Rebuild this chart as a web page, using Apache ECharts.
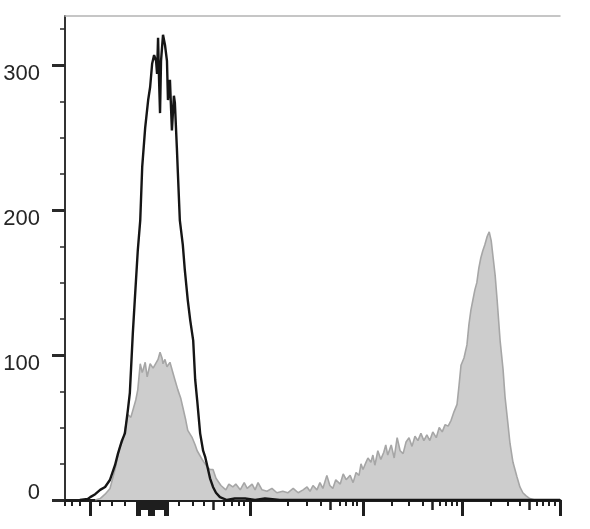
<!DOCTYPE html>
<html>
<head>
<meta charset="utf-8">
<script src="https://cdn.jsdelivr.net/npm/echarts@6/dist/echarts.min.js"></script>
<style>
html,body{margin:0;padding:0;background:#fff;}
#chart{width:590px;height:529px;}
</style>
</head>
<body>
<div id="chart"></div>
<script>
// Display channel (0-1000 across the logicle-scaled x axis) and event counts
var unstainedCh = [30,46,51,61,71,81,91,101,107,115,121,127,131,137,141,147,152,156,162,168,172,176,180,184,186,188,190,192,194,198,202,206,208,212,216,220,222,226,228,232,238,242,248,253,259,263,267,273,279,283,289,293,299,305,313,327,343,364,384,404,434,1000];
var unstainedCount = [0,0.7,2,4,7,9,14,24,32,41,46,62,74,115,138,172,193,230,257,276,285,301,307,303,294,319,290,267,303,321,314,303,276,290,255,279,274,243,226,193,176,159,138,124,110,83,69,46,34,30,21,15,9,5,2,0,1,1,0,1,0,0];

var stainedCh = [61,71,81,91,101,107,111,117,121,127,133,137,143,147,152,156,158,162,166,172,178,182,188,192,196,198,202,206,212,216,222,228,234,238,244,248,257,263,267,277,287,293,299,305,309,315,319,325,331,339,345,354,362,368,378,384,390,398,408,418,428,440,450,461,471,481,489,495,501,509,515,521,529,535,541,547,556,562,568,576,582,588,594,598,602,608,612,618,622,626,632,638,644,648,652,659,665,671,677,683,689,695,701,707,713,719,725,731,737,743,750,756,762,768,774,780,786,792,796,800,806,812,816,820,824,828,832,836,840,844,848,853,857,861,865,869,873,879,885,889,895,899,905,913,919,925,931,939,949];
var stainedCount = [0,1,4,8,21,31,37,41,48,59,57,57,69,76,94,88,90,95,85,94,91,92,97,102,98,94,97,92,95,94,83,76,70,64,55,48,43,38,34,28,23,21,21,15,14,10,10,7,11,9,11,7,12,8,11,7,12,7,6,8,5,6,5,8,5,7,9,6,10,7,12,8,17,10,8,14,11,18,14,17,12,19,17,25,21,26,29,26,31,24,34,28,33,38,31,38,29,43,34,32,40,43,37,44,41,46,41,45,41,47,43,50,47,52,51,55,61,66,79,93,98,107,121,131,138,145,150,160,167,172,176,182,185,179,167,155,138,110,90,71,52,39,26,16,9,5,3,1,0];

// Axis ticks
var yMajorTicks = [0,100,200,300];
var yMinorTicks = [25,50,75,125,150,175,225,250,275,325];
var xMinorTicks = [0,14,30,71,95,121,230,259,281,321,337,352,362,449,489,517,556,568,582,590,661,695,723,758,770,782,792,861,895,919,954,966,978,990];
var xMediumTicks = [154,158,162,166,182,186,190,194,198,299,535,741,937];
var xMajorTicks = [52,146,150,170,174,178,202,206,374,602,802,1000];

var Y_MAX = 334;
var X_MAX = 1000;

function pairs(xs, ys){ return xs.map(function(x,i){ return [x, ys[i]]; }); }

var chart = echarts.init(document.getElementById('chart'), null, {renderer:'canvas'});
var baseX = {type:'value', min:0, max:X_MAX, gridIndex:0, splitLine:{show:false}, axisLabel:{show:false}};
var FONT = 'Liberation Sans, Arial, sans-serif';
var option = {
  animation:false,
  backgroundColor:'#ffffff',
  grid:{left:65, right:30, top:16, bottom:29, containLabel:false},
  xAxis:[
    Object.assign({}, baseX, {position:'bottom',
      axisLine:{show:true, lineStyle:{color:'#1e1e1e', width:3}},
      axisTick:{show:true, customValues:xMinorTicks, length:6, lineStyle:{color:'#1e1e1e', width:2}}}),
    Object.assign({}, baseX, {position:'bottom',
      axisLine:{show:false},
      axisTick:{show:true, customValues:xMediumTicks, length:10, lineStyle:{color:'#1e1e1e', width:2.5}}}),
    Object.assign({}, baseX, {position:'bottom',
      axisLine:{show:false},
      axisTick:{show:true, customValues:xMajorTicks, length:16, lineStyle:{color:'#1e1e1e', width:3}}}),
    Object.assign({}, baseX, {position:'top',
      axisLine:{show:true, lineStyle:{color:'#b4b4b4', width:1.5}},
      axisTick:{show:false}})
  ],
  yAxis:[
    {type:'value', min:0, max:Y_MAX, position:'left', splitLine:{show:false},
      axisLine:{show:true, lineStyle:{color:'#a8a8a8', width:1}},
      axisTick:{show:true, customValues:yMajorTicks, length:13, lineStyle:{color:'#2a2a2a', width:3}},
      axisLabel:{show:true, customValues:yMajorTicks, margin:25,
        fontFamily:FONT, fontSize:22, color:'#262626',
        formatter:function(v){ return v===0 ? '{z|0}' : '{n|'+v+'}'; },
        rich:{
          n:{fontFamily:FONT, fontSize:22, color:'#262626', padding:[17,0,0,0]},
          z:{fontFamily:FONT, fontSize:22, color:'#262626', padding:[0,0,15,0]}
        }}},
    {type:'value', min:0, max:Y_MAX, position:'left', splitLine:{show:false},
      axisLine:{show:false}, axisLabel:{show:false},
      axisTick:{show:true, customValues:yMinorTicks, length:5, lineStyle:{color:'#2a2a2a', width:1.5}}},
    {type:'value', min:0, max:Y_MAX, position:'right', splitLine:{show:false},
      axisLine:{show:true, lineStyle:{color:'#333', width:2}}, axisTick:{show:false}, axisLabel:{show:false}}
  ],
  series:[
    {type:'line', name:'Stained', xAxisIndex:0, yAxisIndex:0, data:pairs(stainedCh, stainedCount),
      showSymbol:false, symbol:'none', z:2,
      lineStyle:{color:'#a6a6a6', width:1.6},
      areaStyle:{color:'#cdcdcd', opacity:1}},
    {type:'line', name:'Unstained', xAxisIndex:0, yAxisIndex:0, data:pairs(unstainedCh, unstainedCount),
      showSymbol:false, symbol:'none', z:3,
      lineStyle:{color:'#151515', width:2.4}}
  ]
};
chart.setOption(option);
</script>
</body>
</html>
